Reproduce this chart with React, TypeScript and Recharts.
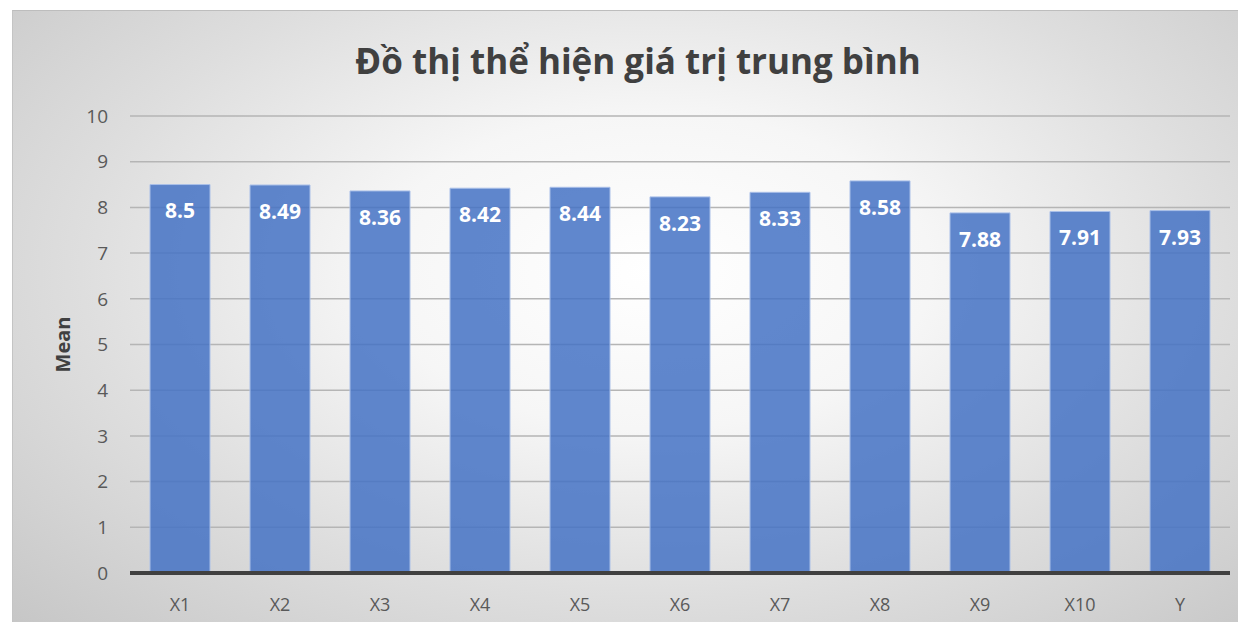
import React from "react";
import {
  BarChart,
  Bar,
  XAxis,
  YAxis,
  CartesianGrid,
  LabelList,
} from "recharts";

const categories = ["X1", "X2", "X3", "X4", "X5", "X6", "X7", "X8", "X9", "X10", "Y"];
const means = [8.5, 8.49, 8.36, 8.42, 8.44, 8.23, 8.33, 8.58, 7.88, 7.91, 7.93];
const yTicks = [0, 1, 2, 3, 4, 5, 6, 7, 8, 9, 10];

const title = "Đồ thị thể hiện giá trị trung bình";
const font = "'Open Sans', 'Noto Sans', sans-serif";

const data = categories.map((name, i) => ({ name, mean: means[i] }));

const MeanLabel = (props: any) => {
  const { viewBox } = props;
  const cx = viewBox.x + 4;
  const cy = viewBox.y + viewBox.height / 2;
  return (
    <text
      x={cx}
      y={cy}
      transform={`rotate(-90 ${cx} ${cy})`}
      textAnchor="middle"
      dominantBaseline="central"
      fontFamily={font}
      fontWeight={700}
      fontSize={20}
      fill="#404040"
    >
      Mean
    </text>
  );
};

export default function App() {
  return (
    <div style={{ margin: -8, width: 1246, height: 630, background: "#fff", position: "relative", overflow: "hidden" }}>
      <div
        style={{
          position: "absolute",
          left: 12,
          top: 10,
          width: 1234,
          height: 620,
          borderTop: "1px solid #bdbdbd",
          borderLeft: "1px solid #c4c4c4",
          boxSizing: "border-box",
          background:
            "radial-gradient(ellipse 75% 85% at 52% 42%, #ffffff 0%, #f6f6f6 30%, #dedede 62%, #c4c4c4 100%)",
        }}
      >
        <div
          style={{
            position: "absolute",
            left: 0,
            top: 26,
            width: 1250,
            textAlign: "center",
            fontFamily: font,
            fontWeight: 700,
            fontSize: 35,
            color: "#404040",
          }}
        >
          {title}
        </div>
        <BarChart
          width={1234}
          height={620}
          data={data}
          barCategoryGap="20%"
          margin={{ top: 105, right: 17, left: 45, bottom: 8 }}
          style={{ position: "absolute", left: 0, top: 0 }}
        >
          <CartesianGrid vertical={false} stroke="#b5b5b5" strokeWidth={1.5} />
          <XAxis
            dataKey="name"
            height={50}
            axisLine={{ stroke: "#404040", strokeWidth: 4 }}
            tickLine={false}
            tickMargin={19}
            tick={{ fill: "#595959", fontSize: 18, fontFamily: font }}
          />
          <YAxis
            width={72}
            domain={[0, 10]}
            ticks={yTicks}
            interval={0}
            axisLine={false}
            tickLine={false}
            tickMargin={16}
            tick={{ fill: "#595959", fontSize: 19, fontFamily: font }}
            label={<MeanLabel />}
          />
          <Bar
            dataKey="mean"
            fill="#4472c4"
            fillOpacity={0.85}
            stroke="#a9bfe8"
            strokeWidth={1}
            isAnimationActive={false}
          >
            <LabelList
              dataKey="mean"
              position="insideTop"
              offset={19}
              fill="#ffffff"
              fontSize={21}
              fontWeight={700}
              fontFamily={font}
            />
          </Bar>
        </BarChart>
      </div>
    </div>
  );
}
